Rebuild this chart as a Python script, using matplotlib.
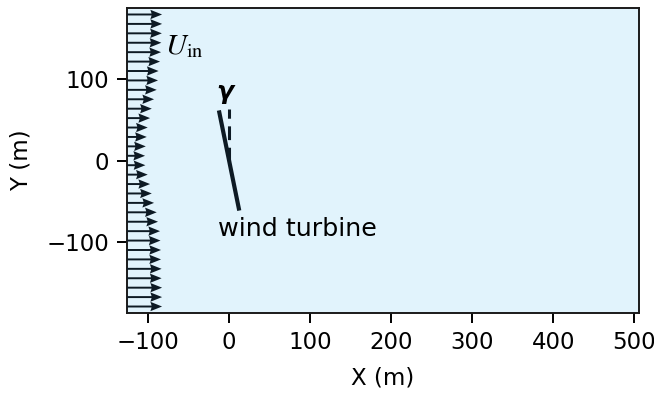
import numpy as np
import matplotlib
matplotlib.use("Agg")
import matplotlib.pyplot as plt

# Inflow profile at the left boundary (arrow length in metres of plot space)
y_in = np.linspace(-180, 180, 32)
u_in = [43.3, 43.3, 43.3, 42.7, 42.7, 42.0, 42.0, 41.4, 40.8, 38.3, 36.7, 33.4,
        30.6, 28.5, 25.6, 22.7, 22.3, 23.2, 24.4, 25.6, 28.5, 30.6, 33.4, 36.7,
        38.3, 39.0, 40.8, 42.0, 42.4, 43.0, 43.3, 43.3]

# Domain and turbine geometry
x_lim = (-126, 506)
y_lim = (-188, 188)
x_ticks = [-100, 0, 100, 200, 300, 400, 500]
y_ticks = [-100, 0, 100]
rotor_d = 126.0
yaw_deg = 11.5
hub = (0.0, 0.0)

fig = plt.figure(figsize=(6.54, 3.93), dpi=100)
ax = fig.add_axes([127 / 654, 80 / 393, 512 / 654, 305 / 393])
ax.set_facecolor("#e1f3fc")
ax.set_xlim(*x_lim)
ax.set_ylim(*y_lim)

arrow_c = "#0d1a24"
x0 = np.full(len(y_in), x_lim[0])
ax.quiver(x0, y_in, u_in, np.zeros(len(y_in)), angles="xy", scale_units="xy",
          scale=1, pivot="tail", color=arrow_c, width=0.0038, headwidth=4.8,
          headlength=6.0, headaxislength=5.4, zorder=3, clip_on=False)

# Yawed rotor and reference direction
r = rotor_d / 2
g = np.deg2rad(yaw_deg)
ax.plot([hub[0] - r * np.sin(g), hub[0] + r * np.sin(g)],
        [hub[1] + r * np.cos(g), hub[1] - r * np.cos(g)],
        color=arrow_c, lw=3, solid_capstyle="butt", zorder=4)
ax.plot([hub[0], hub[0]], [hub[1], hub[1] + r], color=arrow_c, lw=2.2,
        ls=(0, (4.5, 2.5)), zorder=4)

ax.text(-5, 84, "γ", fontsize=18, fontweight="bold", fontstyle="italic",
        ha="center", va="center", color="black")
ax.text(-55, 141, r"$U_{\rm in}$", fontsize=21, math_fontfamily="stix",
        ha="center", va="center", color="black")
ax.text(-14, -85, "wind turbine", fontsize=18.3, ha="left", va="center",
        color="black")

ax.set_xticks(x_ticks)
ax.set_yticks(y_ticks)
ax.tick_params(labelsize=16.5, length=7, width=1.4, direction="out", pad=6)
ax.set_xlabel("X (m)", fontsize=16.5, labelpad=9)
ax.set_ylabel("Y (m)", fontsize=16.5, labelpad=10)
for s in ax.spines.values():
    s.set_linewidth(1.4)
    s.set_color("#1a1a1a")

fig.savefig("out.png", dpi=100)
